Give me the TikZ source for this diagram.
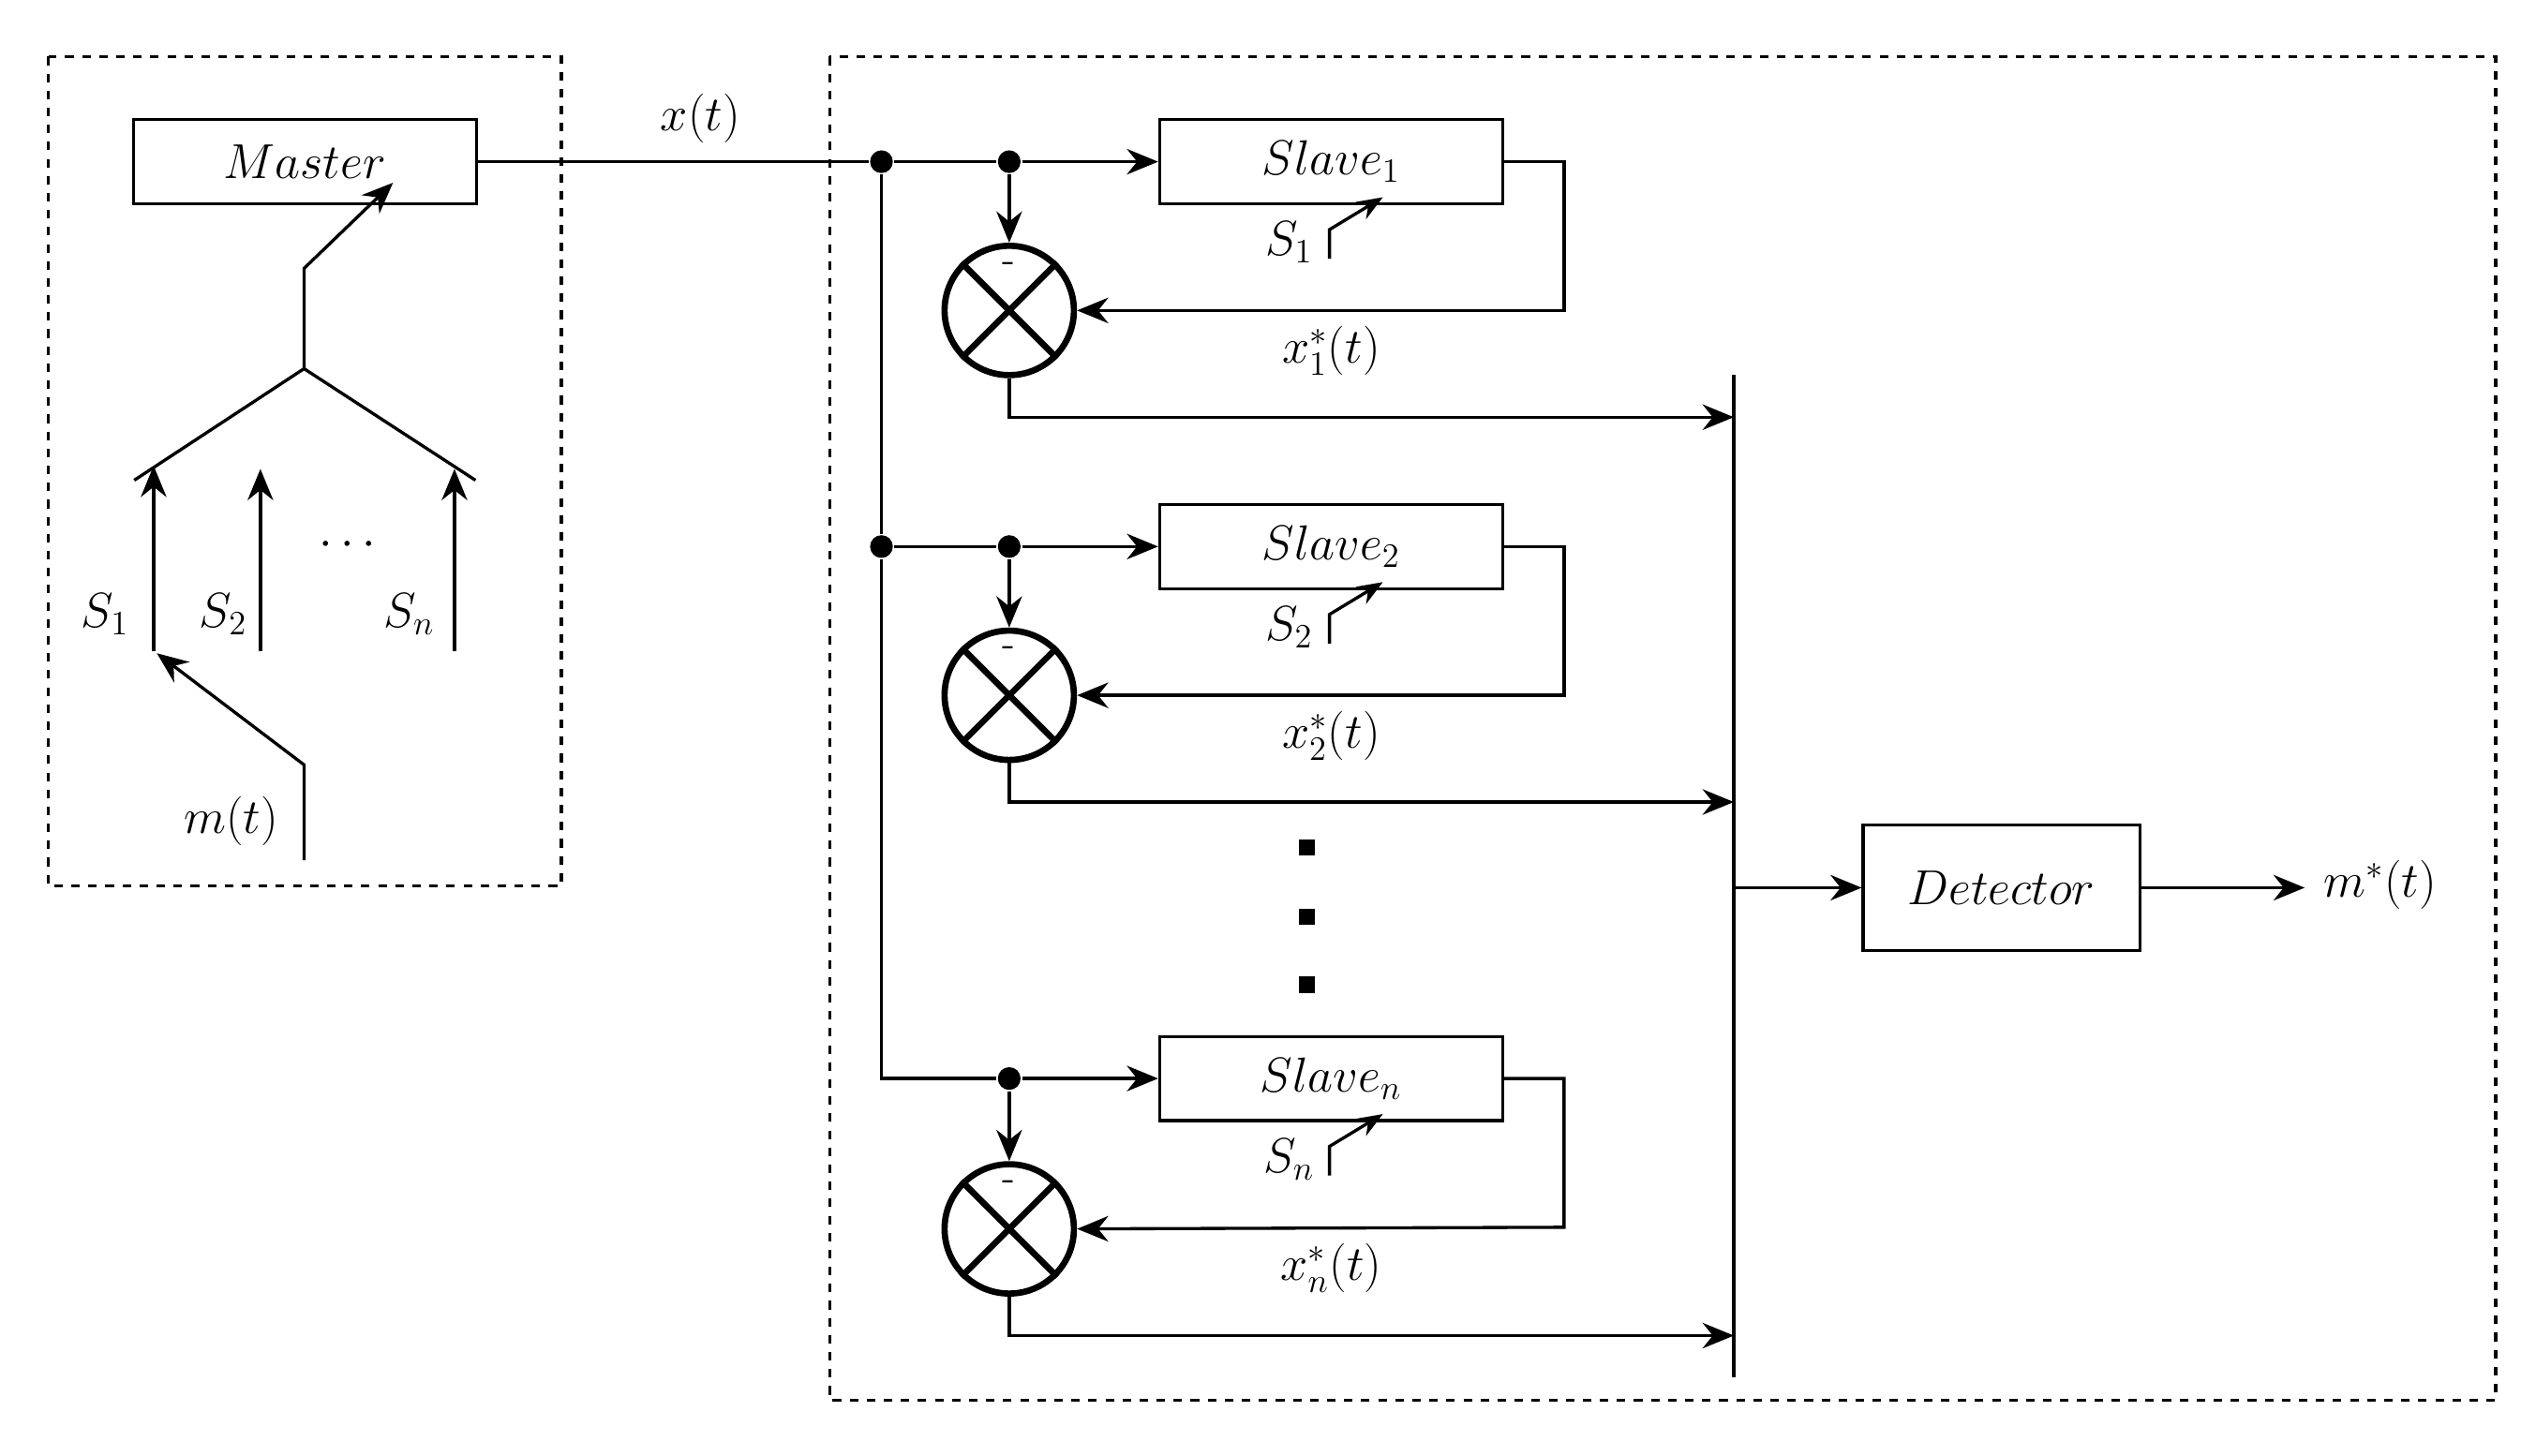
\documentclass[tikz,border=0pt]{standalone}
\usetikzlibrary{arrows.meta}
\begin{document}
\begin{tikzpicture}[x=0.02cm,y=-0.02cm,line width=1.1pt,
  every node/.style={font=\fontsize{17}{20}\selectfont},
  arr/.style={-{Stealth[length=11pt,width=9pt]}},
  blk/.style={draw,line width=1.1pt,minimum width=4.24cm,minimum height=1.04cm,inner sep=0pt},
  dbox/.style={dashed,line width=1.1pt},
  dot/.style={circle,fill,inner sep=0pt,minimum size=8pt},
  mul/.style={circle,draw,line width=2.2pt,minimum size=1.6cm,inner sep=0pt}]
\useasboundingbox (0,0) rectangle (1568,900);
\draw[dbox] (30,35) rectangle (347,548);
\draw[dbox] (513,35) rectangle (1543,866);
% Master side
\node[blk] (master) at (188.5,100) {$Master$};
\coordinate (t) at (188,228);
\draw[arr] (t) -- (188,166) -- (243,113);
\draw (83,297) -- (t) -- (294,297);
\draw[arr] (95,403) -- (95,288);
\draw[arr] (161,403) -- (161,290);
\draw[arr] (281,403) -- (281,290);
\node (s1) at (65,380) {$S_1$};
\node (s2) at (138,380) {$S_2$};
\node (sn) at (253,380) {$S_n$};
\node (ld) at (215,337) {\textbf{$\cdots$}};
\draw[arr] (188,532) -- (188,473) -- (97,404);
\node (m) at (143,508) {$m(t)$};
% main line
\node[dot] (d0) at (545,100) {};
\node[dot] (d1) at (624,100) {};
\node[dot] (e0) at (545,338) {};
\node[dot] (e1) at (624,338) {};
\node[dot] (f1) at (624,667) {};
\draw (master.east) -- (d0) -- (d1);
\node (xt) at (433,73) {$x(t)$};
\draw (d0) -- (e0) -- (545,667) -- (f1);
\draw (e0) -- (e1);
\node[blk] (sl1) at (823,100) {$Slave_1$};
\node[blk] (sl2) at (823,338) {$Slave_2$};
\node[blk] (sln) at (823,667) {$Slave_n$};
\node[mul] (c1) at (624,192) {};
\node[mul] (c2) at (624,430) {};
\node[mul] (cn) at (624,760) {};
\foreach \c in {c1,c2,cn}{
  \draw[line width=2.2pt] (\c.north west) -- (\c.south east) (\c.north east) -- (\c.south west);
  \node[font=\fontsize{14}{16}\selectfont] at ([yshift=-0.3cm]\c.north) {-};}
\draw (1072,232) -- (1072,852);
\node[blk,minimum width=3.42cm,minimum height=1.56cm] (det) at (1237.5,549) {$Detector$};
\draw[arr] (1072,549) -- (det.west);
\coordinate (out) at (1425,549);
\draw[arr] (det.east) -- (out);
\node[anchor=west] (mo) at (1430,547) {$m^*(t)$};
% rows
\foreach \d/\s/\c/\y/\i/\o in {d1/sl1/c1/100/1/258, e1/sl2/c2/338/2/496, f1/sln/cn/667/n/826}{
  \draw[arr] (\d) -- (\s.west);
  \draw[arr] (\d) -- (\c.north);
  \draw[arr] (\s.east) -- (967,\y) -- (967,\y+92) -- (\c.east);
  \draw[arr] (\c.south) -- (624,\o) -- (1072,\o);
  \draw[-{Stealth[length=9pt,width=7pt]}] (822,\y+60) -- (822,\y+42) -- (855,\y+22);
  \node at (797,\y+50) {$S_\i$};
  \node at (823,\y+117) {$x_\i^*(t)$};
}
\foreach \yy in {524,567,609} \fill (803,\yy-5) rectangle (813,\yy+5);
\end{tikzpicture}
\end{document}
